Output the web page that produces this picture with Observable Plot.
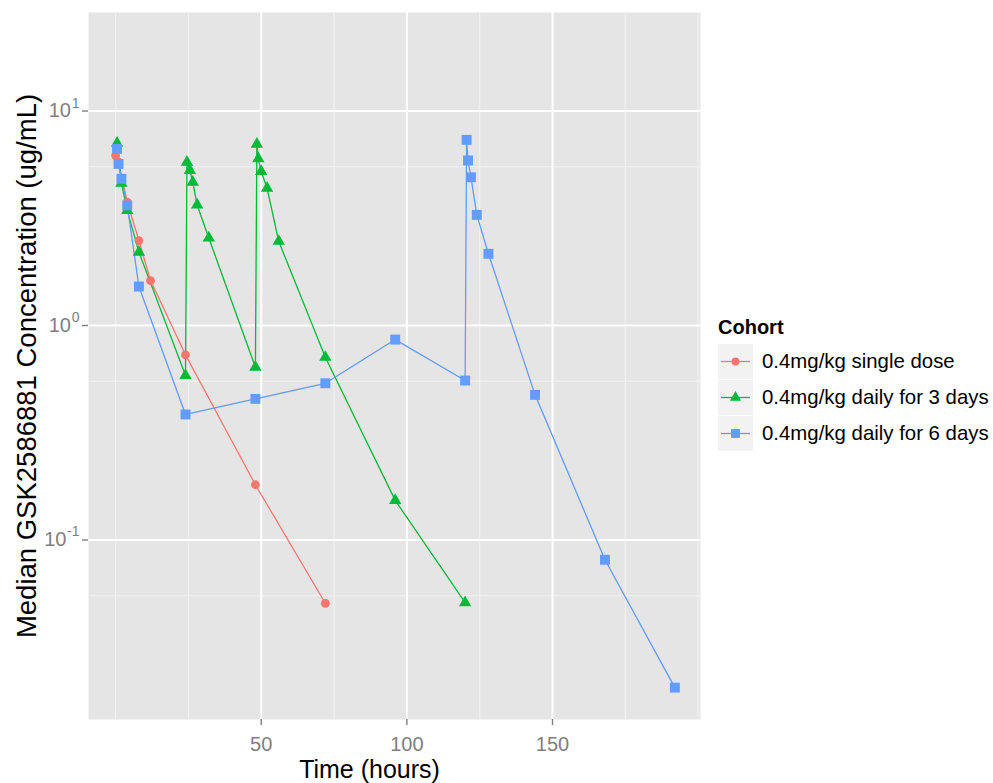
<!DOCTYPE html>
<html>
<head>
<meta charset="utf-8">
<script src="https://cdn.jsdelivr.net/npm/d3@7"></script>
<script src="https://cdn.jsdelivr.net/npm/@observablehq/plot@0.6"></script>
<style>
  html, body { margin: 0; padding: 0; background: #ffffff; }
  #wrap { position: relative; width: 993px; height: 783px; font-family: "Liberation Sans", Arial, sans-serif; }
  #chart { position: absolute; left: 0; top: 0; }
  #legend { position: absolute; left: 718px; top: 312px; }
  #legend .title { font-weight: bold; font-size: 20px; color: #000; height: 30px; line-height: 30px; margin-bottom: 2px; }
  #legend .row { display: flex; align-items: center; height: 35px; margin-bottom: 1px; }
  #legend .row span { font-size: 20.4px; color: #000; margin-left: 9px; white-space: nowrap; }
</style>
</head>
<body>
<div id="wrap">
  <div id="chart"></div>
  <div id="legend"></div>
</div>
<script>
// ---- data ----
const cohorts = ["0.4mg/kg single dose", "0.4mg/kg daily for 3 days", "0.4mg/kg daily for 6 days"];
const colors = ["#F8766D", "#00BA38", "#619CFF"];
const symbols = ["circle", "triangle", "square"];

const timeSingle = [0, 1, 4, 8, 12, 24, 48, 72];
const concSingle = [6.2, 5.77, 3.76, 2.49, 1.62, 0.73, 0.181, 0.0507];

const time3 = [0.5, 2, 4, 8, 24, 24.5, 25.5, 26.5, 28, 32, 48, 48.5, 49, 50, 52, 56, 72, 96, 120];
const conc3 = [7.08, 4.61, 3.44, 2.2, 0.585, 5.77, 5.28, 4.66, 3.65, 2.56, 0.639, 7.0, 5.99, 5.23, 4.37, 2.47, 0.711, 0.153, 0.0511];

const time6 = [0.5, 1, 2, 4, 8, 24, 48, 72, 96, 120, 120.5, 121, 122, 124, 128, 144, 168, 192];
const conc6 = [6.66, 5.67, 4.83, 3.63, 1.52, 0.385, 0.455, 0.538, 0.86, 0.554, 7.34, 5.88, 4.91, 3.28, 2.16, 0.475, 0.0809, 0.0205];

const xTicks = [50, 100, 150];
const xMinor = [0, 25, 75, 125, 175, 200];
const yTicks = [0.1, 1, 10];
const yTickExp = ["-1", "0", "1"];
const yMinor = [0.055, 0.55, 5.5];

const xTitle = "Time (hours)";
const yTitle = "Median GSK2586881 Concentration (ug/mL)";
const legendTitle = "Cohort";

// ---- table ----
const series = [[timeSingle, concSingle], [time3, conc3], [time6, conc6]];
const rows = [];
series.forEach(([t, c], i) => t.forEach((tt, j) => rows.push({cohort: cohorts[i], time: tt, conc: c[j]})));

const radii = [4.4, 4.6, 5.6];
const grey = "#7F7F7F";

const yLabelMarks = [];
yTicks.forEach((v, i) => {
  const e = yTickExp[i];
  const ew = e.length > 1 ? 12.5 : 8;
  yLabelMarks.push(Plot.text([v], {y: d => d, text: () => "10", frameAnchor: "left", textAnchor: "end",
    dx: -(9 + ew + 0.5), fontSize: 20, fill: grey}));
  yLabelMarks.push(Plot.text([v], {y: d => d, text: () => e, frameAnchor: "left", textAnchor: "end",
    dx: -9, dy: -8, fontSize: 14, fill: grey}));
});

const plot = Plot.plot({
  width: 993,
  height: 783,
  marginLeft: 88,
  marginRight: 293,
  marginTop: 12,
  marginBottom: 64,
  style: {fontFamily: "'Liberation Sans', Arial, sans-serif", background: "#ffffff", overflow: "visible"},
  x: {domain: [-9.3, 200.8]},
  y: {type: "log", domain: [0.01456, 28.8]},
  color: {domain: cohorts, range: colors},
  marks: [
    Plot.frame({fill: "#E5E5E5", stroke: null}),
    Plot.ruleY(yMinor, {stroke: "#F2F2F2", strokeWidth: 1.1}),
    Plot.ruleX(xMinor, {stroke: "#F2F2F2", strokeWidth: 1.1}),
    Plot.ruleY(yTicks, {stroke: "#FFFFFF", strokeWidth: 2}),
    Plot.ruleX(xTicks, {stroke: "#FFFFFF", strokeWidth: 2}),
    Plot.axisX({ticks: xTicks, tickSize: 6, tickPadding: 11, fontSize: 20, stroke: grey, fill: grey, strokeWidth: 1.4, label: null}),
    Plot.axisY({ticks: yTicks, tickSize: 6, tickFormat: () => "", stroke: grey, strokeWidth: 1.4, label: null}),
    ...yLabelMarks,
    Plot.line(rows, {x: "time", y: "conc", z: "cohort", stroke: "cohort", strokeWidth: 1.3}),
    ...cohorts.map((c, i) => Plot.dot(rows.filter(d => d.cohort === c),
      {x: "time", y: "conc", fill: "cohort", symbol: () => symbols[i], r: radii[i], stroke: null})),
    Plot.text([xTitle], {text: d => d, frameAnchor: "bottom", dy: 58, dx: -25, fontSize: 25, fill: "#000"}),
    Plot.text([yTitle], {text: d => d, frameAnchor: "left", textAnchor: "middle", dx: -61, rotate: -90, fontSize: 27.5, fill: "#000"})
  ]
});
document.getElementById("chart").appendChild(plot);

// ---- legend ----
const lg = document.getElementById("legend");
const t = document.createElement("div");
t.className = "title";
t.textContent = legendTitle;
lg.appendChild(t);
const ns = "http://www.w3.org/2000/svg";
cohorts.forEach((c, i) => {
  const row = document.createElement("div");
  row.className = "row";
  const svg = document.createElementNS(ns, "svg");
  svg.setAttribute("width", 35); svg.setAttribute("height", 35);
  const rect = document.createElementNS(ns, "rect");
  rect.setAttribute("width", 35); rect.setAttribute("height", 35); rect.setAttribute("fill", "#F2F2F2");
  svg.appendChild(rect);
  const line = document.createElementNS(ns, "line");
  line.setAttribute("x1", 3); line.setAttribute("x2", 32); line.setAttribute("y1", 17.5); line.setAttribute("y2", 17.5);
  line.setAttribute("stroke", colors[i]); line.setAttribute("stroke-width", 1.3);
  svg.appendChild(line);
  const sym = document.createElementNS(ns, "path");
  const symType = {circle: d3.symbolCircle, triangle: d3.symbolTriangle, square: d3.symbolSquare}[symbols[i]];
  sym.setAttribute("d", d3.symbol(symType, Math.PI * radii[i] * radii[i] * 0.8)());
  sym.setAttribute("transform", "translate(17.5,17.5)");
  sym.setAttribute("fill", colors[i]);
  svg.appendChild(sym);
  row.appendChild(svg);
  const s = document.createElement("span");
  s.textContent = c;
  row.appendChild(s);
  lg.appendChild(row);
});
</script>
</body>
</html>
